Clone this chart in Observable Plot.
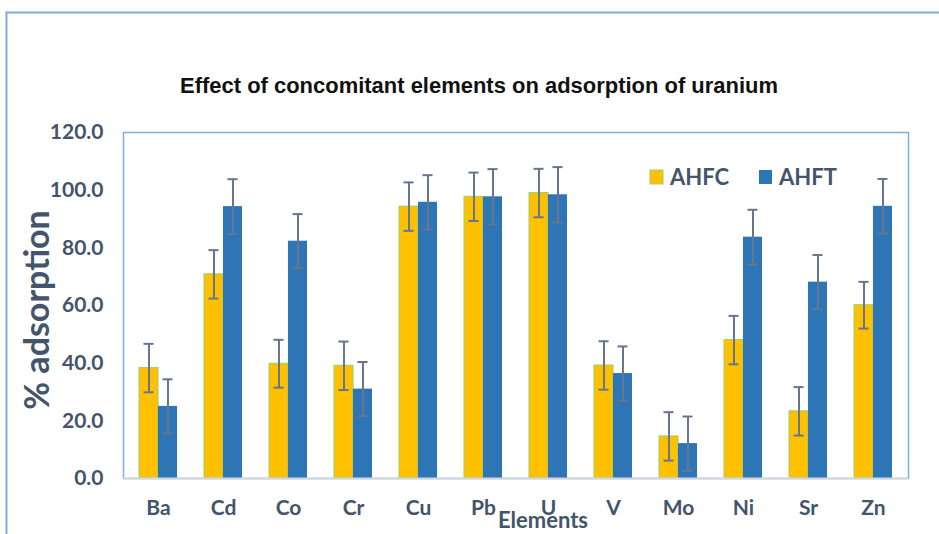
<!DOCTYPE html>
<html>
<head>
<meta charset="utf-8">
<script src="https://cdn.jsdelivr.net/npm/d3@7"></script>
<script src="https://cdn.jsdelivr.net/npm/@observablehq/plot@0.6"></script>
<style>
  html, body { margin: 0; padding: 0; background: #ffffff; }
  #chart { position: relative; width: 939px; height: 534px; overflow: hidden; }
  #chart svg { display: block; }
</style>
</head>
<body>
<div id="chart"></div>
<script>
// ---- data ----
const elements = ["Ba","Cd","Co","Cr","Cu","Pb","U","V","Mo","Ni","Sr","Zn"];
const seriesNames = ["AHFC","AHFT"];
const seriesColors = ["#FFC000","#2E75B6"];
const ahfc    = [38.3, 70.8, 39.8, 39.1, 94.3, 97.7, 99.0, 39.2, 14.6, 48.0, 23.3, 60.1];
const ahft    = [25.0, 94.3, 82.3, 31.0, 95.8, 97.7, 98.4, 36.4, 12.1, 83.7, 68.1, 94.4];
const ahfcErr = [8.4, 8.4, 8.3, 8.4, 8.4, 8.4, 8.4, 8.4, 8.4, 8.4, 8.4, 8.1];
const ahftErr = [9.4, 9.5, 9.4, 9.4, 9.4, 9.6, 9.6, 9.4, 9.4, 9.5, 9.4, 9.5];
const yTicks  = [0, 20, 40, 60, 80, 100, 120];
const title   = "Effect of concomitant elements on adsorption of uranium";
const yLabel  = "% adsorption";
const xLabel  = "Elements";

const rowsC = elements.map((e, i) => ({el: e, s: seriesNames[0], v: ahfc[i], err: ahfcErr[i]}));
const rowsT = elements.map((e, i) => ({el: e, s: seriesNames[1], v: ahft[i], err: ahftErr[i]}));

// ---- layout ----
const W = 939, H = 534;
const mL = 123, mR = 31, mT = 132, mB = 56;
const pIn = 0.42, pOut = 0.214;
const step = (W - mL - mR) / (elements.length - pIn + 2 * pOut);
const bw = step * (1 - pIn);      // group width
const half = bw / 2;
const capHalf = 5;
const errColor = "#66768F";
const textColor = "#44546A";

const plot = Plot.plot({
  width: W,
  height: H,
  marginLeft: mL,
  marginRight: mR,
  marginTop: mT,
  marginBottom: mB,
  style: {fontFamily: "Lato, sans-serif", fontWeight: "bold", fontSize: "21px", color: textColor, background: "#ffffff"},
  x: {type: "band", domain: elements, paddingInner: pIn, paddingOuter: pOut, label: null},
  y: {domain: [0, 120], label: null},
  marks: [
    Plot.frame({stroke: "#7FAEE6", strokeWidth: 1.5}),
    Plot.barY(rowsC, {x: "el", y: "v", fill: seriesColors[0], stroke: "#9BD16A", strokeWidth: 1, insetRight: half}),
    Plot.barY(rowsT, {x: "el", y: "v", fill: seriesColors[1], insetLeft: half}),
    Plot.ruleY([0], {stroke: "#D3D8DE", strokeWidth: 2}),
    // error bars
    Plot.ruleX(rowsC, {x: "el", y1: d => d.v - d.err, y2: d => d.v + d.err, dx: -half / 2, stroke: errColor, strokeWidth: 2}),
    Plot.ruleX(rowsT, {x: "el", y1: d => d.v - d.err, y2: d => d.v + d.err, dx: half / 2, stroke: errColor, strokeWidth: 2}),
    Plot.tickY(rowsC, {x: "el", y: d => d.v + d.err, insetLeft: half / 2 - capHalf, insetRight: bw - half / 2 - capHalf, stroke: errColor, strokeWidth: 2}),
    Plot.tickY(rowsC, {x: "el", y: d => d.v - d.err, insetLeft: half / 2 - capHalf, insetRight: bw - half / 2 - capHalf, stroke: errColor, strokeWidth: 2}),
    Plot.tickY(rowsT, {x: "el", y: d => d.v + d.err, insetLeft: half + half / 2 - capHalf, insetRight: half / 2 - capHalf, stroke: errColor, strokeWidth: 2}),
    Plot.tickY(rowsT, {x: "el", y: d => d.v - d.err, insetLeft: half + half / 2 - capHalf, insetRight: half / 2 - capHalf, stroke: errColor, strokeWidth: 2}),
    Plot.axisY({ticks: yTicks, tickFormat: d => d.toFixed(1), tickSize: 0, tickPadding: 20, label: null, fill: textColor}),
    Plot.axisX({tickSize: 0, tickPadding: 22, label: null, fill: textColor})
  ]
});

document.getElementById("chart").appendChild(plot);

// ---- decorations (border, titles, legend) ----
const svg = d3.select(plot);
// outer chart-area border (top and left visible)
svg.append("path")
  .attr("d", `M6.5,${H} V12.5 H${W}`)
  .attr("fill", "none").attr("stroke", "#7EA9DF").attr("stroke-width", 2);

svg.append("text")
  .attr("x", 479).attr("y", 93)
  .attr("text-anchor", "middle")
  .attr("textLength", 598).attr("lengthAdjust", "spacingAndGlyphs")
  .style("font-family", "'Liberation Sans Narrow', 'Liberation Sans', Arial, sans-serif")
  .style("font-weight", "bold").style("font-size", "22px").style("fill", "#111111")
  .text(title);

svg.append("text")
  .attr("transform", "translate(49,310) rotate(-90)")
  .attr("text-anchor", "middle")
  .style("font-family", "Lato, sans-serif").style("font-weight", "bold")
  .style("font-size", "34px").style("fill", textColor)
  .text(yLabel);

svg.append("text")
  .attr("x", 543).attr("y", 528)
  .attr("text-anchor", "middle")
  .style("font-family", "Lato, sans-serif").style("font-weight", "bold")
  .style("font-size", "22px").style("fill", textColor)
  .text(xLabel);

// legend
const legendX = [650, 759];
seriesNames.forEach((name, i) => {
  const g = svg.append("g");
  g.append("rect")
    .attr("x", legendX[i]).attr("y", 170).attr("width", 13).attr("height", 14)
    .attr("fill", seriesColors[i])
    .attr("stroke", i === 0 ? "#9BD16A" : "none").attr("stroke-width", 1);
  g.append("text")
    .attr("x", legendX[i] + 20).attr("y", 184.5)
    .attr("text-anchor", "start")
    .style("font-family", "Lato, sans-serif").style("font-weight", "bold")
    .style("font-size", "22px").style("fill", textColor)
    .text(name);
});
</script>
</body>
</html>
